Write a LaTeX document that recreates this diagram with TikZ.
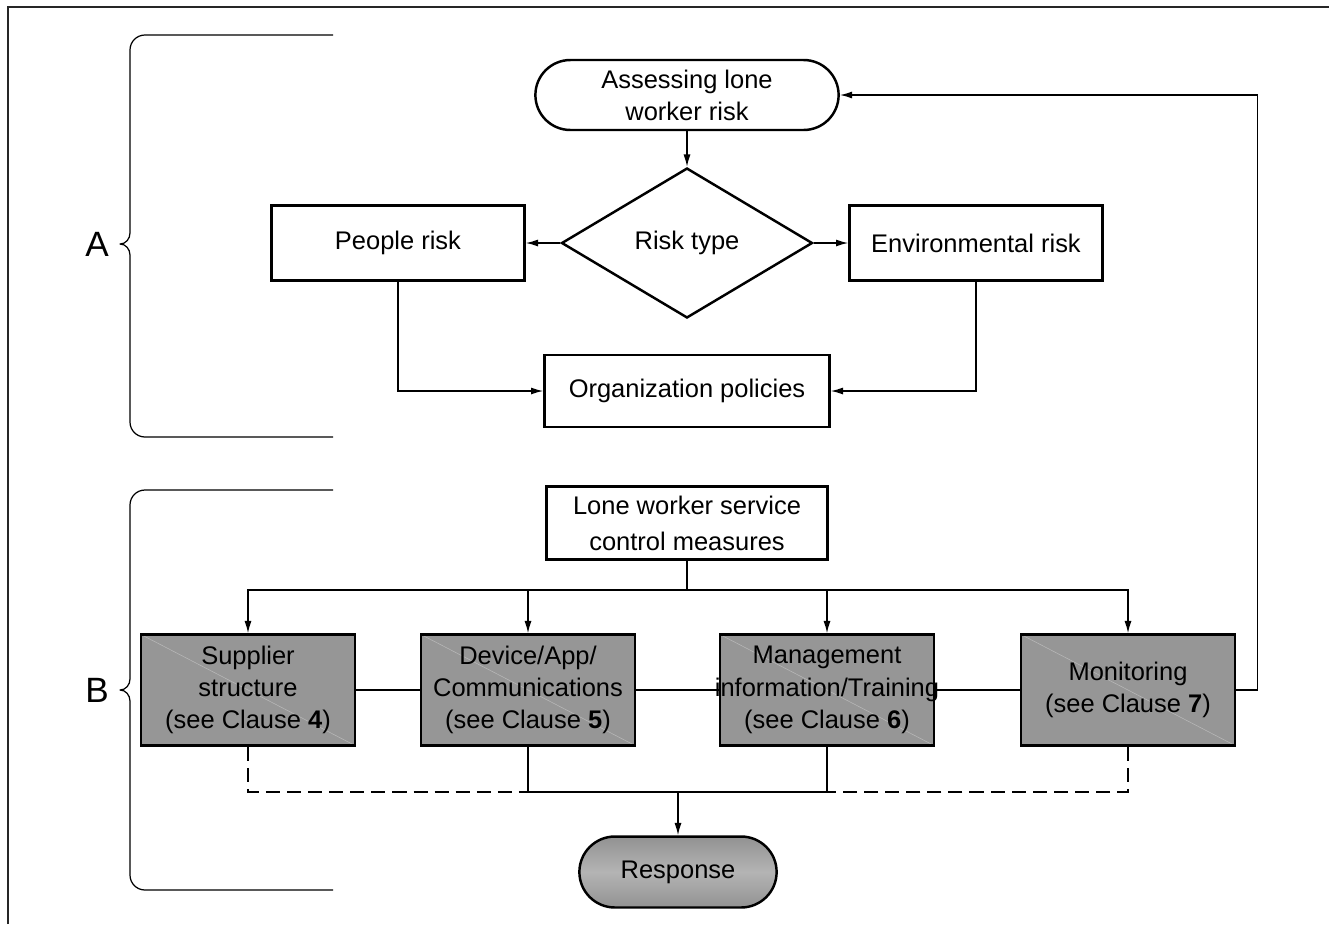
\documentclass[tikz,border=0pt]{standalone}
\usepackage{fontspec}
\setmainfont{Liberation Sans}
\usetikzlibrary{arrows.meta,shapes.geometric,shapes.misc}

\definecolor{BoxGray}{HTML}{969696}
\definecolor{RespDark}{HTML}{929292}
\definecolor{RespLight}{HTML}{B4B4B4}

\begin{document}
\begin{tikzpicture}[
        % Environment Config (one unit = one pixel of the page)
        x=0.02cm, y=-0.02cm,
        font=\fontsize{14.5}{18.3}\selectfont,
        MyArrow/.style={% Style for the flow arrows
          -{Latex[length=7pt,width=4pt]},
          line width=0.8pt
        },
        Wire/.style={% Style for plain links
          line width=0.8pt
        },
        Brace/.style={% Style for the section braces
          line width=0.7pt,
          line join=round
        },
        Box/.style={% Style for white process boxes
          draw,
          rectangle,
          line width=1.4pt,
          align=center,
          inner sep=1pt
        },
        Terminal/.style={% Style for start box
          draw,
          rounded rectangle,
          line width=1.4pt,
          align=center,
          minimum width=6.3cm,
          minimum height=1.4cm
        },
        Clause/.style={% Style for the grey clause boxes
          Box,
          fill=BoxGray,
          minimum width=4.28cm,
          minimum height=2.22cm,
          path picture={\draw[gray!55,line width=0.3pt]
            (path picture bounding box.north west)
            -- (path picture bounding box.south east);}
        },
        SideLabel/.style={% Style for the letters A and B
          font=\fontsize{20}{24}\selectfont
        }
      ]

      \useasboundingbox (0,0) rectangle (1329,924);

      %===Frame===
      \draw[line width=0.8pt, black!85] (8,924) -- (8,7) -- (1329,7);

      %===Braces===
      \draw[Brace]
      (333,35)
          -- (145,35) to[out=180,in=90] (130,50)
          -- (130,233) to[out=-90,in=0] (120,244)
          to[out=0,in=90] (130,255)
          -- (130,422) to[out=-90,in=180] (145,437)
          -- (333,437);
      \draw[Brace]
      (333,490)
          -- (145,490) to[out=180,in=90] (130,505)
          -- (130,679) to[out=-90,in=0] (120,690)
          to[out=0,in=90] (130,701)
          -- (130,875) to[out=-90,in=180] (145,890)
          -- (333,890);
      \node[SideLabel] (LabelA) at (97,244) {A};
      \node[SideLabel] (LabelB) at (97,690) {B};

      % Put the nodes of part A
      \node[Terminal] (Assess) at (687,95) {Assessing lone\\worker risk};
      \node[draw, diamond, line width=1.4pt, minimum width=5.02cm,
            minimum height=3cm, inner sep=0pt] (Risk) at (687,243) {Risk type};
      \node[Box, minimum width=5.06cm, minimum height=1.5cm] (People) at (398,243) {People risk};
      \node[Box, minimum width=5.06cm, minimum height=1.5cm] (Env) at (976,243) {Environmental risk};
      \node[Box, minimum width=5.7cm, minimum height=1.44cm] (Org) at (687,391) {Organization policies};

      % Put the nodes of part B
      \node[Box, minimum width=5.62cm, minimum height=1.46cm,
            font=\fontsize{14.5}{20.5}\selectfont] (Lone) at (687,523) {Lone worker service\\control measures};
      \node[Clause] (Supp) at (248,690) {Supplier\\structure\\(see Clause \textbf{4})};
      \node[Clause] (Dev) at (528,690) {Device/App/\\Communications\\(see Clause \textbf{5})};
      \node[Clause] (Mgmt) at (827,690) {Management\\\makebox[3.9cm]{information/Training}\\(see Clause \textbf{6})};
      \node[Clause] (Mon) at (1128,690) {Monitoring\\(see Clause \textbf{7})};
      \node[draw, rounded rectangle, line width=1.4pt,
            top color=RespDark, bottom color=RespDark, middle color=RespLight,
            minimum width=4.18cm, minimum height=1.42cm] (Resp) at (678,872) {Response};

      % Draw the flow of part A
      \draw[MyArrow] (Assess.south) -- (Risk.north);
      \draw[MyArrow] (Risk.west) -- (People.east);
      \draw[MyArrow] (Risk.east) -- (Env.west);
      \draw[MyArrow]
      (People.south)
          |- (Org.west);
      \draw[MyArrow]
      (Env.south)
          |- (Org.east);

      % Draw the flow of part B
      \draw[Wire] (Lone.south) -- (Lone.south |- 0,590) coordinate (Split);
      \foreach \n in {Supp,Dev,Mgmt,Mon}
        \draw[MyArrow] (Split) -| (\n.north);

      \draw[Wire] (Supp.east) -- (Dev.west);
      \draw[Wire] (Dev.east) -- (Mgmt.west);
      \draw[Wire] (Mgmt.east) -- (Mon.west);

      %===Feedback to the start===
      \draw[MyArrow]
      (Mon.east)
          -- ++(21,0)
          |- (Assess.east);

      %===Merge to response===
      \coordinate (Merge) at (Resp.north |- 0,792);
      \draw[Wire, dash pattern=on 8pt off 4pt]
      (Supp.south)
          |- (Dev.south |- Merge);
      \draw[Wire]
      (Dev.south)
          |- (Mgmt.south |- Merge)
          -- (Mgmt.south);
      \draw[Wire, dash pattern=on 8pt off 4pt]
      (Mon.south)
          |- (Mgmt.south |- Merge);
      \draw[MyArrow] (Merge) -- (Resp.north);

\end{tikzpicture}
\end{document}
